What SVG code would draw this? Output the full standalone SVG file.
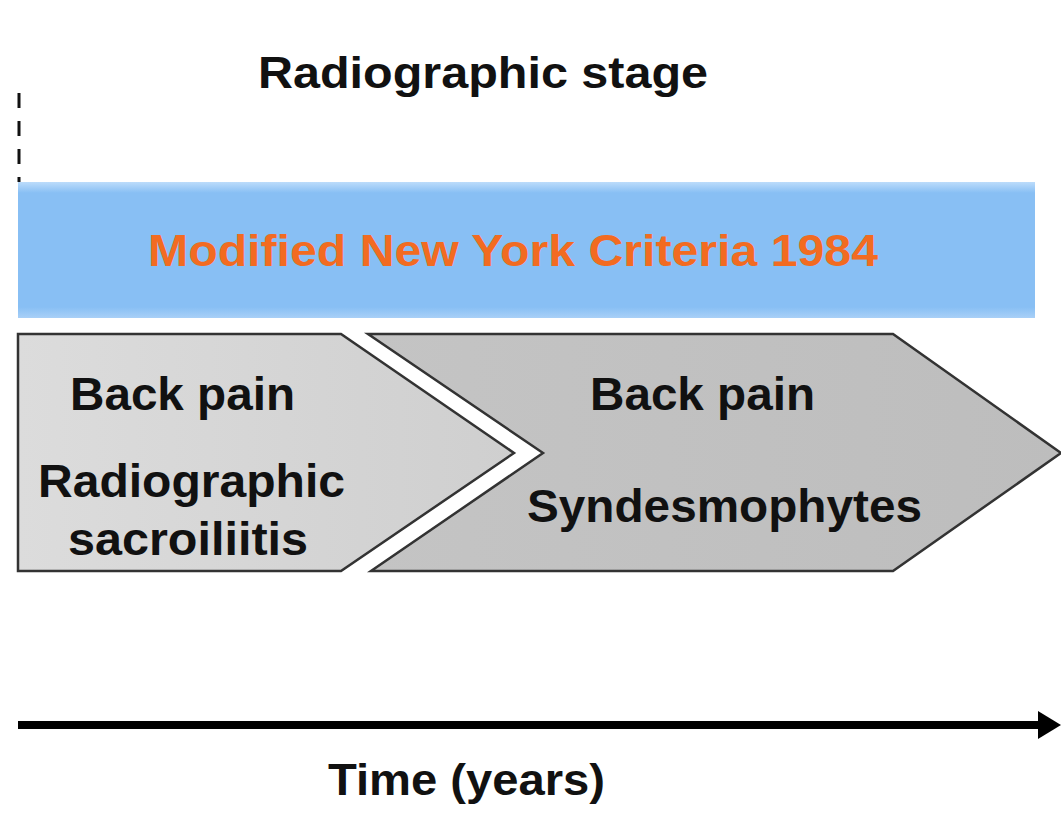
<svg xmlns="http://www.w3.org/2000/svg" width="1061" height="813" viewBox="0 0 1061 813">
<defs>
<linearGradient id="g1" x1="0" y1="0" x2="1" y2="0"><stop offset="0" stop-color="#dcdcdc"/><stop offset="1" stop-color="#cfcfcf"/></linearGradient>
<linearGradient id="g2" x1="0" y1="0" x2="1" y2="0"><stop offset="0" stop-color="#c4c4c4"/><stop offset="1" stop-color="#bdbdbd"/></linearGradient>
<linearGradient id="gb" x1="0" y1="0" x2="0" y2="1"><stop offset="0" stop-color="#bcdcfb"/><stop offset="0.08" stop-color="#88bff4"/><stop offset="0.92" stop-color="#88bff4"/><stop offset="1" stop-color="#a9d0f7"/></linearGradient>
<style>
.t{font-family:"Liberation Sans",Arial,sans-serif;font-weight:bold;font-size:47px;fill:#111}
.o{fill:#f26b21;font-size:45px}
.shape{stroke:#333;stroke-width:2.5;stroke-linejoin:miter}
</style>
</defs>
<rect width="1061" height="813" fill="#ffffff"/>
<g id="title"><text class="t" x="258" y="88" textLength="450" lengthAdjust="spacingAndGlyphs" style="font-size:44px">Radiographic stage</text></g>
<g id="dash"><line x1="19" y1="93" x2="19" y2="182" stroke="#111" stroke-width="3" stroke-dasharray="15 13"/></g>
<g id="criteria">
<rect x="18" y="182" width="1017" height="136" fill="url(#gb)"/>
<text class="t o" x="148" y="266" textLength="730" lengthAdjust="spacingAndGlyphs">Modified New York Criteria 1984</text>
</g>
<g id="stage1">
<polygon class="shape" points="18,334 341,334 514,453 341,571 18,571" fill="url(#g1)"/>
<text class="t" x="70" y="410" textLength="225" lengthAdjust="spacingAndGlyphs">Back pain</text>
<text class="t" x="38" y="497" textLength="307" lengthAdjust="spacingAndGlyphs">Radiographic</text>
<text class="t" x="68" y="555" textLength="240" lengthAdjust="spacingAndGlyphs">sacroiliitis</text>
</g>
<g id="stage2">
<polygon class="shape" points="368,334 893,334 1061,453 893,571 371,571 543,453" fill="url(#g2)"/>
<text class="t" x="590" y="410" textLength="225" lengthAdjust="spacingAndGlyphs">Back pain</text>
<text class="t" x="527" y="522" textLength="395" lengthAdjust="spacingAndGlyphs">Syndesmophytes</text>
</g>
<g id="connectors">
<line x1="18" y1="725" x2="1042" y2="725" stroke="#000" stroke-width="8"/>
<polygon points="1038,711 1061,725 1038,739" fill="#000"/>
</g>
<g id="axis"><text class="t" x="328" y="795" textLength="277" lengthAdjust="spacingAndGlyphs" style="font-size:44px">Time (years)</text></g>
</svg>
